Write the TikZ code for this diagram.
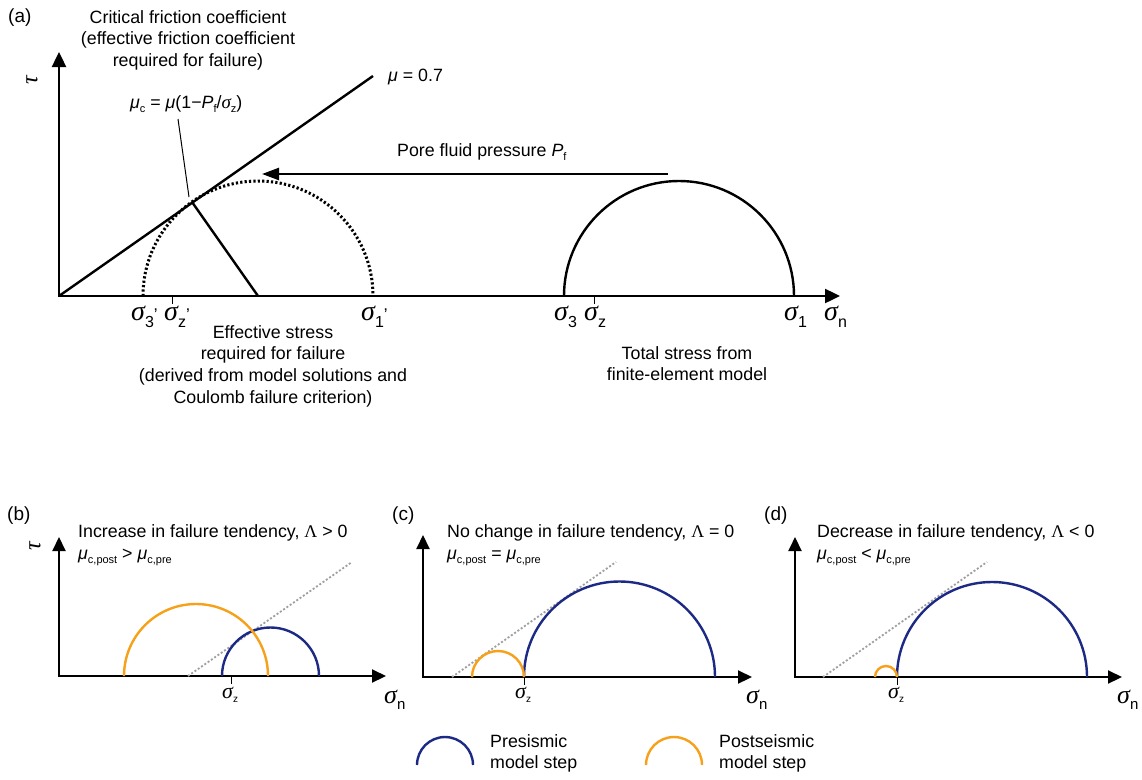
\documentclass[tikz,border=0pt]{standalone}
\usepackage{fontspec}
\setmainfont{Liberation Sans}
\newfontfamily\grkfont{Liberation Serif}
\usetikzlibrary{arrows.meta}
\definecolor{preblue}{HTML}{1C2A86}
\definecolor{postorange}{HTML}{F7A11A}
\newcommand{\lsub}[3]{\raisebox{-#1pt}{\fontsize{#2}{#2}\selectfont #3}}
\newcommand{\sigg}[1]{{\fontsize{#1}{#1}\grkfont\itshape σ}}
\newcommand{\mus}[1]{\textit{μ}\lsub{4}{11}{#1}}
\newcommand{\Lam}{{\grkfont Λ}}
\begin{document}
\begin{tikzpicture}[x=1pt,y=-1pt,
  txt/.style={inner sep=0pt, font=\fontsize{17.8}{21.7}\selectfont},
  lbl/.style={inner sep=0pt, font=\fontsize{19}{19}\selectfont},
  mainline/.style={line width=2.4pt},
  axisa/.style={line width=2.4pt, {Triangle[length=15pt,width=14pt]}-{Triangle[length=15pt,width=14pt]}},
  axisb/.style={line width=2.1pt, {Triangle[length=14pt,width=13pt]}-{Triangle[length=14pt,width=13pt]}},
  tick/.style={line width=1pt},
  dotcircle/.style={line width=3pt, dash pattern=on 2.2pt off 2.2pt},
  envelope/.style={line width=1.8pt, gray!75, dash pattern=on 2pt off 2pt},
  pre/.style={line width=2.4pt, preblue},
  post/.style={line width=2.4pt, postorange},
]
\useasboundingbox[fill=white] (0,0) rectangle (1142,779);

% ---------------- panel (a)
\node[lbl, anchor=base west] (la) at (8,23) {(a)};
\coordinate (Ao) at (59,296);
\coordinate (Ay) at (59,52);
\coordinate (Ax) at (840,296);
\draw[axisa] (Ay) -- (Ao) -- (Ax);
\node[inner sep=0pt, rotate=90] (tauA) at (32,80) {\fontsize{24}{24}\grkfont\itshape τ};

\coordinate (Fend) at (373,76);
\draw[mainline] (Ao) -- (Fend);
\node[txt, anchor=base west] (muA) at (388,81) {\textit{μ} = 0.7};

\coordinate (Es3) at (143,296);
\coordinate (Ec) at (258,296);
\coordinate (Et) at (192,202);
\draw[dotcircle] (Es3) arc[start angle=180, end angle=360, radius=115];
\draw[mainline] (Et) -- (Ec);

\node[txt, anchor=north, align=center] (title) at (188,10)
  {Critical friction coefficient\\(effective friction coefficient\\required for failure)};
\node[txt, anchor=base west] (muc) at (130,108)
  {\mus{c} = \textit{μ}(1−\textit{P}\lsub{4}{11}{f}/\sigg{19}\lsub{4}{11}{z})};
\coordinate (mucfoot) at (178,119);
\coordinate (mucpt) at (189,197);
\draw[line width=1pt] (mucfoot) -- (mucpt);

\draw[tick] (172,296) -- (172,304);
\node[inner sep=0pt, anchor=base west] (s3p) at (131,320) {\sigg{28}\lsub{7}{16}{3}\fontsize{17}{17}\selectfont'};
\node[inner sep=0pt, anchor=base west] (szp) at (164,320) {\sigg{28}\lsub{7}{16}{z}\fontsize{17}{17}\selectfont'};
\node[inner sep=0pt, anchor=base west] (s1p) at (361,320) {\sigg{28}\lsub{7}{16}{1}\fontsize{17}{17}\selectfont'};

\node[txt, anchor=north, align=center] (effective) at (273,325)
  {Effective stress\\required for failure\\(derived from model solutions and\\Coulomb failure criterion)};

% pore pressure arrow
\coordinate (Pstart) at (668,174);
\coordinate (Pend) at (262,174);
\draw[line width=2.4pt, -{Triangle[length=17pt,width=12pt]}] (Pstart) -- (Pend);
\node[txt, anchor=base west] (pore) at (397,156) {Pore fluid pressure \textit{P}\lsub{4}{11}{f}};

% total stress circle
\coordinate (Ts3) at (564,296);
\draw[mainline] (Ts3) arc[start angle=180, end angle=360, radius=115];
\draw[tick] (594,296) -- (594,304);
\node[inner sep=0pt, anchor=base west] (s3) at (554,320) {\sigg{28}\lsub{7}{16}{3}};
\node[inner sep=0pt, anchor=base west] (sz) at (584,320) {\sigg{28}\lsub{7}{16}{z}};
\node[inner sep=0pt, anchor=base west] (s1) at (784,320) {\sigg{28}\lsub{7}{16}{1}};
\node[inner sep=0pt, anchor=base west] (snA) at (824,320) {\sigg{28}\lsub{7}{16}{n}};
\node[txt, anchor=north, align=center] (total) at (687,346)
  {Total stress from\\finite-element model};

% ---------------- panel (b)
\node[lbl, anchor=base west] (lb) at (7,520) {(b)};
\coordinate (Bo) at (59,676);
\coordinate (By) at (59,537);
\coordinate (Bx) at (386,676);
\draw[axisb] (By) -- (Bo) -- (Bx);
\node[inner sep=0pt, rotate=90] (tauB) at (35,546) {\fontsize{24}{24}\grkfont\itshape τ};
\coordinate (Be1) at (188,676);
\coordinate (Be2) at (352,562);
\draw[envelope] (Be1) -- (Be2);
\draw[pre] (222,676) arc[start angle=180, end angle=360, radius=48.5];
\draw[post] (124,676) arc[start angle=180, end angle=360, radius=72];
\draw[tick] (231,676) -- (231,684);
\node[inner sep=0pt, anchor=base west] (szB) at (222,698) {\sigg{22}\lsub{4}{10}{z}};
\node[inner sep=0pt, anchor=base west] (snB) at (384,703) {\sigg{26}\lsub{6}{15}{n}};
\node[txt, anchor=base west] (tb1) at (78,537) {Increase in failure tendency, \Lam{} > 0};
\node[txt, anchor=base west] (tb2) at (78,559) {\mus{c,post} > \mus{c,pre}};

% ---------------- panel (c)
\node[lbl, anchor=base west] (lc) at (392,520) {(c)};
\coordinate (Co) at (423,677);
\coordinate (Cy) at (423,535);
\coordinate (Cx) at (752,677);
\draw[axisb] (Cy) -- (Co) -- (Cx);
\coordinate (Ce1) at (452,677);
\coordinate (Ce2) at (616,562);
\draw[envelope] (Ce1) -- (Ce2);
\draw[pre] (524,677) arc[start angle=180, end angle=360, radius=95.5];
\draw[post] (472,677) arc[start angle=180, end angle=360, radius=26];
\draw[tick] (524,677) -- (524,685);
\node[inner sep=0pt, anchor=base west] (szC) at (515,698) {\sigg{22}\lsub{4}{10}{z}};
\node[inner sep=0pt, anchor=base west] (snC) at (746,703) {\sigg{26}\lsub{6}{15}{n}};
\node[txt, anchor=base west] (tc1) at (447,537) {No change in failure tendency, \Lam{} = 0};
\node[txt, anchor=base west] (tc2) at (447,559) {\mus{c,post} = \mus{c,pre}};

% ---------------- panel (d)
\node[lbl, anchor=base west] (ld) at (764,520) {(d)};
\coordinate (Do) at (795,677);
\coordinate (Dy) at (795,537);
\coordinate (Dx) at (1122,677);
\draw[axisb] (Dy) -- (Do) -- (Dx);
\coordinate (De1) at (823,677);
\coordinate (De2) at (987,562);
\draw[envelope] (De1) -- (De2);
\draw[pre] (897,677) arc[start angle=180, end angle=360, radius=95];
\draw[post] (875,677) arc[start angle=180, end angle=360, radius=11];
\draw[tick] (897,677) -- (897,685);
\node[inner sep=0pt, anchor=base west] (szD) at (888,698) {\sigg{22}\lsub{4}{10}{z}};
\node[inner sep=0pt, anchor=base west] (snD) at (1117,703) {\sigg{26}\lsub{6}{15}{n}};
\node[txt, anchor=base west] (td1) at (817,537) {Decrease in failure tendency, \Lam{} < 0};
\node[txt, anchor=base west] (td2) at (817,559) {\mus{c,post} < \mus{c,pre}};

% ---------------- legend
\draw[pre] (417,765) arc[start angle=180, end angle=360, radius=28];
\node[txt, anchor=north west, align=left] (legpre) at (490,734) {Presismic\\model step};
\draw[post] (646,765) arc[start angle=180, end angle=360, radius=28];
\node[txt, anchor=north west, align=left] (legpost) at (719,734) {Postseismic\\model step};
\end{tikzpicture}
\end{document}
